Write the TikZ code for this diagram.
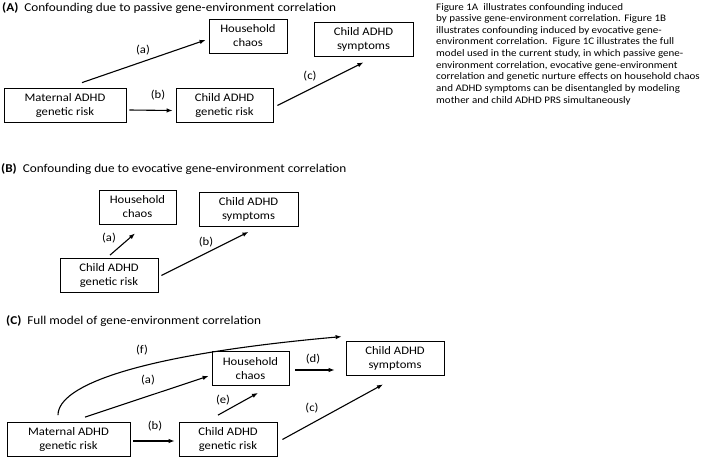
\documentclass[tikz,border=0pt]{standalone}
\usepackage{fontspec}
\setmainfont{Carlito}[FakeStretch=1.1]
\usetikzlibrary{arrows.meta}
\begin{document}
\begin{tikzpicture}[x=1pt,y=-1pt,
  box/.style={draw,line width=0.8pt,inner sep=0pt,align=center,
    font=\fontsize{11.5}{14}\selectfont,minimum height=34pt},
  conn/.style={line width=1.1pt,-{Latex[length=6pt,width=4.5pt]}},
  lab/.style={font=\fontsize{11.5}{13}\selectfont,inner sep=0pt},
  ttl/.style={anchor=west,inner sep=0pt,font=\fontsize{12}{15}\selectfont},
  capl/.style={anchor=base west,inner sep=0pt,font=\fontsize{10}{12}\selectfont}]
\useasboundingbox (0,0) rectangle (709,458);
% titles
\node[ttl] (tA) at (2,8) {\textbf{(A)}\ \ Confounding due to passive gene-environment correlation};
\node[ttl] (tB) at (1,169) {\textbf{(B)}\ \ Confounding due to evocative gene-environment correlation};
\node[ttl] (tC) at (6,321) {\textbf{(C)}\ \ Full model of gene-environment correlation};
% caption
\node[capl] (cap1) at (436,10) {Figure 1A\ \ illustrates confounding induced};
\node[capl] (cap2) at (436,21.65) {by passive gene-environment correlation. Figure 1B};
\node[capl] (cap3) at (436,33.3) {illustrates confounding induced by evocative gene-};
\node[capl] (cap4) at (436,44.95) {environment correlation.\ \ Figure 1C illustrates the full};
\node[capl] (cap5) at (436,56.6) {model used in the current study, in which passive gene-};
\node[capl] (cap6) at (436,68.25) {environment correlation, evocative gene-environment};
\node[capl] (cap7) at (436,79.9) {correlation and genetic nurture effects on household chaos};
\node[capl] (cap8) at (436,91.55) {and ADHD symptoms can be disentangled by modeling};
\node[capl] (cap9) at (436,103.2) {mother and child ADHD PRS simultaneously};
% Panel A
\node[box,minimum width=122pt] (mA) at (65,105) {Maternal ADHD\\genetic risk};
\node[box,minimum width=97pt] (cA) at (224.5,105.5) {Child ADHD\\genetic risk};
\node[box,minimum width=78pt] (hA) at (248,36) {Household\\chaos};
\node[box,minimum width=99pt] (sA) at (363.5,39) {Child ADHD\\symptoms};
\draw[conn] ([xshift=17pt,yshift=5pt]mA.north) -- ([xshift=-3pt,yshift=-4pt]hA.west);
\draw[conn] ([xshift=3pt,yshift=-5pt]mA.east) -- ([xshift=-3pt,yshift=-5pt]cA.west);
\draw[conn] ([xshift=4pt]cA.east) -- ([yshift=-6pt]sA.south);
\node[lab] (laA) at (143,50) {(a)};
\node[lab] (lbA) at (158,95) {(b)};
\node[lab] (lcA) at (310,76) {(c)};
% Panel B
\node[box,minimum width=77pt] (hB) at (137.5,207) {Household\\chaos};
\node[box,minimum width=99pt] (sB) at (248.5,209.5) {Child ADHD\\symptoms};
\node[box,minimum width=98pt] (cB) at (109,275.5) {Child ADHD\\genetic risk};
\draw[conn] ([xshift=1pt,yshift=3pt]cB.north) -- ([xshift=-2.5pt,yshift=-9pt]hB.south);
\draw[conn] ([xshift=3pt]cB.east) -- ([yshift=-5pt]sB.south);
\node[lab] (laB) at (109,238) {(a)};
\node[lab] (lbB) at (206,242) {(b)};
% Panel C
\node[box,minimum width=123pt] (mC) at (68.5,439.5) {Maternal ADHD\\genetic risk};
\node[box,minimum width=98pt] (cC) at (228,439.5) {Child ADHD\\genetic risk};
\node[box,minimum width=77pt] (hC) at (250.5,368.5) {Household\\chaos};
\node[box,minimum width=98pt] (sC) at (395,358) {Child ADHD\\symptoms};
\draw[conn] ([xshift=16.5pt,yshift=5pt]mC.north) -- ([xshift=-3pt,yshift=-7.5pt]hC.west);
\draw[conn] ([xshift=3pt,yshift=-1.5pt]mC.east) -- ([xshift=-4pt,yshift=-1.5pt]cC.west);
\draw[conn] ([xshift=-10pt,yshift=7pt]cC.north) -- ([xshift=7.5pt,yshift=-7pt]hC.south);
\draw[conn] ([xshift=5pt]cC.east) -- ([xshift=-12pt,yshift=-9pt]sC.south);
\draw[conn] ([xshift=6pt,yshift=-1.5pt]hC.east) -- ([xshift=-11pt,yshift=-12pt]sC.west);
\draw[conn] ([xshift=-10.5pt,yshift=7pt]mC.north) .. controls +(0,-30) and +(-202,18) .. ([xshift=-4pt,yshift=4pt]sC.north west);
\node[lab] (lfC) at (142,350) {(f)};
\node[lab] (laC) at (148,380) {(a)};
\node[lab] (lbC) at (155,426) {(b)};
\node[lab] (leC) at (223,400) {(e)};
\node[lab] (lcC) at (312,408) {(c)};
\node[lab] (ldC) at (313,359) {(d)};
\end{tikzpicture}
\end{document}
